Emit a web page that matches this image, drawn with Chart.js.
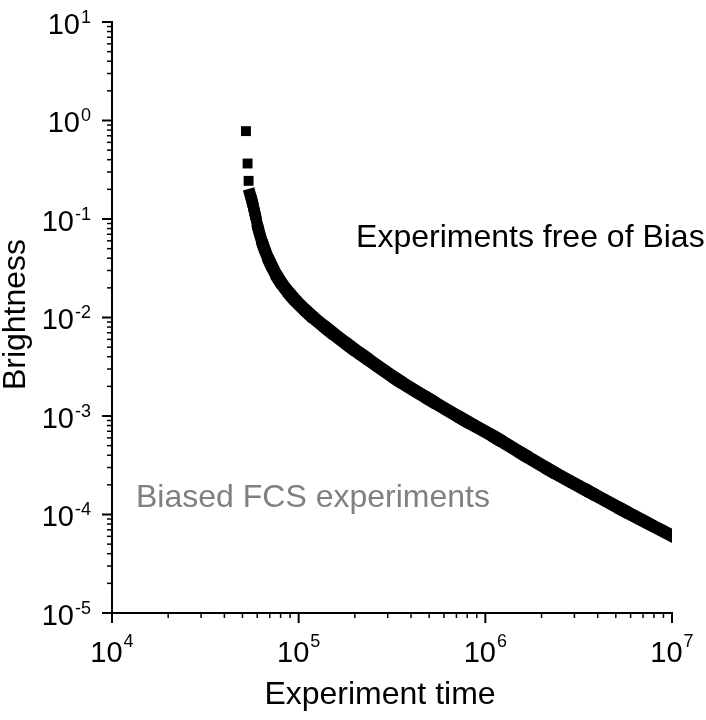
<!DOCTYPE html>
<html>
<head>
<meta charset="utf-8">
<title>Brightness vs experiment time</title>
<script src="https://cdn.jsdelivr.net/npm/chart.js@4.4.1/dist/chart.umd.min.js"></script>
<style>
  html, body { margin: 0; padding: 0; background: #fff; }
  #wrap { position: relative; width: 706px; height: 720px; }
</style>
</head>
<body>
<div id="wrap"><canvas id="brightnessChart"></canvas></div>
<script>
// values
const isolatedTimes = [52200, 53250, 53920];
const isolatedBrightness = [0.78, 0.366, 0.244];

const bandTimes = [55000, 56100, 58300, 61000, 64900, 70500, 78700, 92000, 113000, 144600,
    189000, 221800, 336200, 507000, 761000, 1153000, 1596000, 2227000, 3647000, 5478000, 10000000];
const bandBrightness = [0.177, 0.155, 0.114, 0.0772, 0.0523, 0.0355, 0.0240, 0.0163, 0.0110, 0.00746,
    0.00506, 0.00407, 0.00235, 0.001455, 0.000925, 0.000593, 0.000408, 0.000281, 0.000168, 0.0001104, 0.0000608];

const xTickValues = [1e4, 1e5, 1e6, 1e7];
const yTickValues = [1e-5, 1e-4, 1e-3, 1e-2, 1e-1, 1e0, 1e1];

const xTitle = 'Experiment time';
const yTitle = 'Brightness';
const noteFree = { text: 'Experiments free of Bias', x: 2.03e5, y: 0.0522 };
const noteBiased = { text: 'Biased FCS experiments', x: 13450, y: 1.2e-4 };

const FONT = '"Liberation Sans", Arial, sans-serif';
const MARKER = 9.5; // side of the square markers in the band

function toPoints(xs, ys) {
    return xs.map((t, i) => ({ x: t, y: ys[i] }));
}

// "10" with a raised exponent, like the original tick labels
function drawPower(ctx, value, x, y, align, raise) {
    const exp = String(Math.round(Math.log10(value)));
    ctx.font = `29px ${FONT}`;
    const baseW = ctx.measureText('10').width;
    ctx.font = `18px ${FONT}`;
    const expW = ctx.measureText(exp).width;
    const total = baseW + 1 + expW;
    const left = align === 'right' ? x - total : x - total / 2;
    ctx.textAlign = 'left';
    ctx.textBaseline = 'alphabetic';
    ctx.font = `29px ${FONT}`;
    ctx.fillText('10', left, y);
    ctx.font = `18px ${FONT}`;
    ctx.fillText(exp, left + baseW + 1, y + raise);
}

const axisDecor = {
    id: 'axisDecor',
    afterDraw(chart) {
        const { ctx, chartArea: area, scales: { x, y } } = chart;
        ctx.save();
        ctx.strokeStyle = '#000';
        ctx.fillStyle = '#000';
        const tick = (x1, y1, x2, y2, w) => {
            ctx.lineWidth = w;
            ctx.beginPath();
            ctx.moveTo(x1, y1);
            ctx.lineTo(x2, y2);
            ctx.stroke();
        };

        yTickValues.forEach((v, i) => {
            const py = y.getPixelForValue(v);
            tick(area.left, py, area.left - 10, py, 2);
            drawPower(ctx, v, area.left - 21, py + 11.5, 'right', -11);
            if (i < yTickValues.length - 1) {
                for (let k = 2; k <= 9; k++) {
                    const pm = y.getPixelForValue(v * k);
                    tick(area.left, pm, area.left - 5, pm, 1.5);
                }
            }
        });

        xTickValues.forEach((v, i) => {
            const px = x.getPixelForValue(v);
            tick(px, area.bottom, px, area.bottom + 10, 2);
            drawPower(ctx, v, px, area.bottom + 48.5, 'center', -15);
            if (i < xTickValues.length - 1) {
                for (let k = 2; k <= 9; k++) {
                    const pm = x.getPixelForValue(v * k);
                    tick(pm, area.bottom, pm, area.bottom + 5, 1.5);
                }
            }
        });

        // axis titles
        ctx.font = `32px ${FONT}`;
        ctx.textAlign = 'center';
        ctx.textBaseline = 'alphabetic';
        ctx.fillText(xTitle, (area.left + area.right) / 2 - 12, area.bottom + 91);
        ctx.save();
        ctx.translate(25, (area.top + area.bottom) / 2 - 3);
        ctx.rotate(-Math.PI / 2);
        ctx.fillText(yTitle, 0, 0);
        ctx.restore();

        // notes inside the plot
        ctx.font = `32px ${FONT}`;
        ctx.textAlign = 'left';
        ctx.fillStyle = '#000';
        ctx.fillText(noteFree.text, x.getPixelForValue(noteFree.x), y.getPixelForValue(noteFree.y));
        ctx.fillStyle = '#808080';
        ctx.fillText(noteBiased.text, x.getPixelForValue(noteBiased.x), y.getPixelForValue(noteBiased.y));
        ctx.restore();
    }
};

const ctx = document.getElementById('brightnessChart').getContext('2d');

new Chart(ctx, {
    type: 'scatter',
    data: {
        datasets: [
            {
                label: 'first points',
                data: toPoints(isolatedTimes, isolatedBrightness),
                pointStyle: 'rect',
                pointRadius: 7,
                pointBorderWidth: 0,
                backgroundColor: '#000',
                borderColor: '#000'
            },
            {
                label: 'brightness',
                data: toPoints(bandTimes, bandBrightness),
                showLine: true,
                cubicInterpolationMode: 'monotone',
                pointRadius: 0,
                borderColor: '#000',
                backgroundColor: '#000',
                borderCapStyle: 'square',
                borderJoinStyle: 'round',
                segment: {
                    // thickness of a trail of square markers along this direction
                    borderWidth: c => {
                        const dx = c.p1.x - c.p0.x;
                        const dy = c.p1.y - c.p0.y;
                        const len = Math.hypot(dx, dy) || 1;
                        return MARKER * (Math.abs(dx) + Math.abs(dy)) / len;
                    }
                }
            }
        ]
    },
    options: {
        responsive: true,
        maintainAspectRatio: false,
        animation: false,
        layout: { padding: { top: 22, right: 34, left: 0, bottom: 0 } },
        plugins: {
            legend: { display: false },
            tooltip: { enabled: false }
        },
        scales: {
            x: {
                type: 'logarithmic',
                min: 1e4,
                max: 1e7,
                grid: { display: false, drawTicks: false },
                border: { display: true, color: '#000', width: 2 },
                ticks: { display: false },
                afterFit: scale => { scale.height = 107; }
            },
            y: {
                type: 'logarithmic',
                min: 1e-5,
                max: 1e1,
                grid: { display: false, drawTicks: false },
                border: { display: true, color: '#000', width: 2 },
                ticks: { display: false },
                afterFit: scale => { scale.width = 112; }
            }
        }
    },
    plugins: [axisDecor]
});
</script>
</body>
</html>
